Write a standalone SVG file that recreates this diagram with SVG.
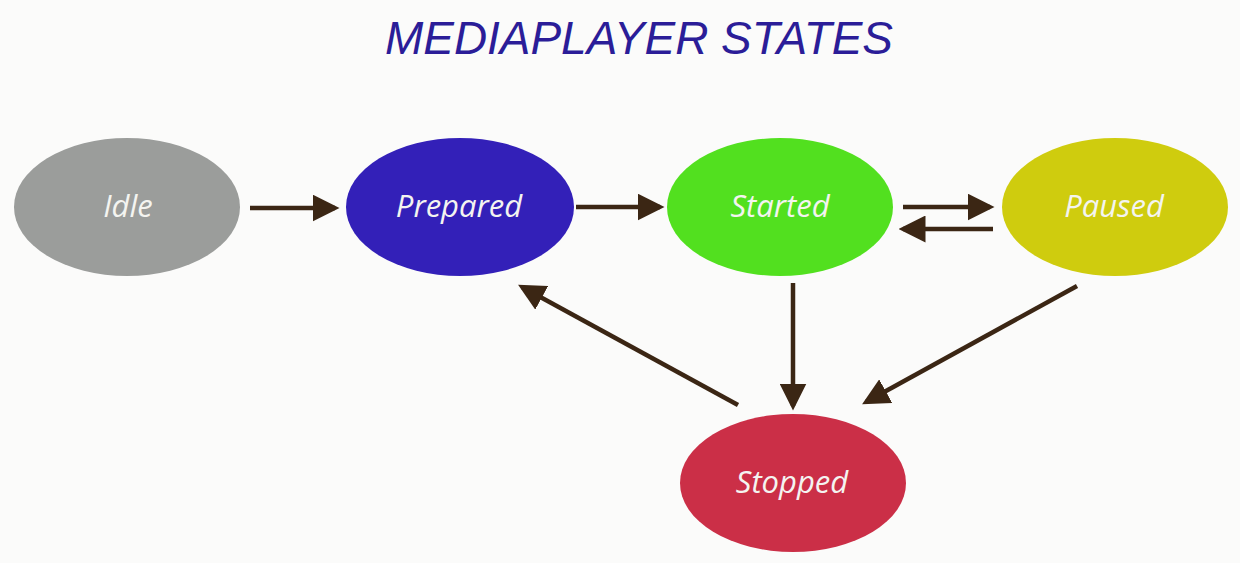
<svg xmlns="http://www.w3.org/2000/svg" width="1240" height="563" viewBox="0 0 1240 563">
<defs>
<marker id="ah" markerWidth="6" markerHeight="6" refX="5" refY="3" orient="auto" markerUnits="strokeWidth">
<path d="M0,0 L6,3 L0,6 Z" fill="#3b2614"/>
</marker>
<style>
.lbl{font-family:"Open Sans","Liberation Sans",sans-serif;font-style:italic;font-size:31px;fill:#f4f4f0;text-anchor:middle;dominant-baseline:central}
.arr{stroke:#3b2614;stroke-width:4.5;fill:none;marker-end:url(#ah)}
.title{font-family:"Liberation Sans",sans-serif;font-style:italic;font-size:46px;fill:#2b1d98;text-anchor:middle}
</style>
</defs>
<rect width="1240" height="563" fill="#fbfbfa"/>
<text class="title" x="639" y="54" textLength="508" lengthAdjust="spacingAndGlyphs">MEDIAPLAYER STATES</text>
<g id="connectors">
<line class="arr" x1="250" y1="208" x2="335" y2="208"/>
<line class="arr" x1="576" y1="207" x2="660" y2="207"/>
<line class="arr" x1="903" y1="207" x2="990" y2="207"/>
<line class="arr" x1="993" y1="229" x2="903" y2="229"/>
<line class="arr" x1="793" y1="283" x2="793" y2="406"/>
<line class="arr" x1="738" y1="405" x2="522" y2="287"/>
<line class="arr" x1="1077" y1="286" x2="866" y2="402"/>
</g>
<g id="idle"><ellipse cx="127" cy="207" rx="113" ry="69" fill="#9b9d9b"/><text class="lbl" x="128" y="205">Idle</text></g>
<g id="prepared"><ellipse cx="460" cy="207" rx="114" ry="69" fill="#3320b8"/><text class="lbl" x="459" y="205">Prepared</text></g>
<g id="started"><ellipse cx="780" cy="207" rx="113" ry="69" fill="#52e01f"/><text class="lbl" x="780" y="205">Started</text></g>
<g id="paused"><ellipse cx="1115" cy="207" rx="113" ry="69" fill="#cfcc0e"/><text class="lbl" x="1114" y="205">Paused</text></g>
<g id="stopped"><ellipse cx="793" cy="483" rx="113" ry="69" fill="#cb2f47"/><text class="lbl" x="792" y="481">Stopped</text></g>
</svg>
